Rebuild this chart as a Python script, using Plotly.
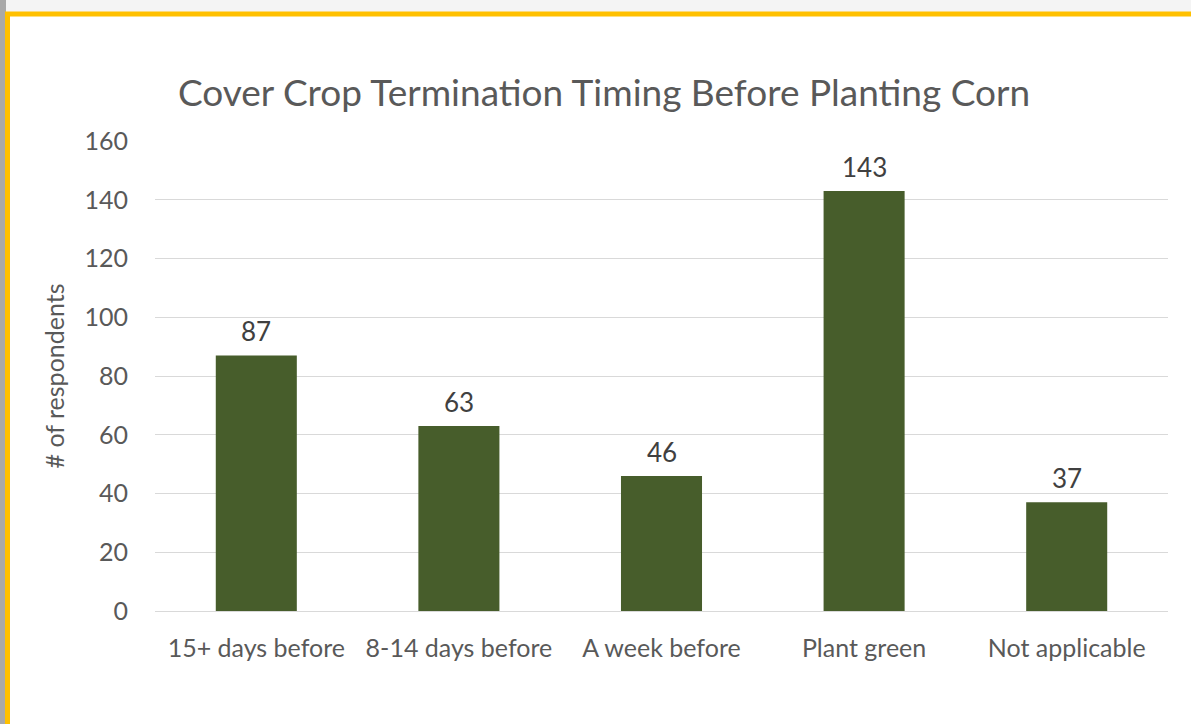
import plotly.graph_objects as go

categories = ['15+ days before', '8-14 days before', 'A week before', 'Plant green', 'Not applicable']
respondents = [87, 63, 46, 143, 37]
y_ticks = [0, 20, 40, 60, 80, 100, 120, 140, 160]

W, H = 1191, 724
L, R, T, B = 155, 23, 141, 113
pw, ph = W - L - R, H - T - B


def px_x(p):
    return (p - L) / pw


def px_y(p):
    return (H - B - p) / ph


fig = go.Figure()

fig.add_trace(go.Bar(
    x=categories, y=respondents,
    marker=dict(color='#475D2B', line=dict(width=0)),
    hoverinfo='x+y',
))

# value labels above the bars
for c, v in zip(categories, respondents):
    fig.add_annotation(x=c, y=v, text=str(v), showarrow=False,
                       yanchor='bottom', yshift=6,
                       font=dict(family='Lato', size=26, color='#404040'))

# slide-like frame: grey backdrop, white card with yellow edge
fig.add_shape(type='rect', xref='paper', yref='paper',
              x0=px_x(-5), x1=px_x(6), y0=px_y(H + 10), y1=px_y(0),
              fillcolor='#a9a9a9', line=dict(width=0), layer='below')
fig.add_shape(type='rect', xref='paper', yref='paper',
              x0=px_x(7.5), x1=px_x(W + 20), y0=px_y(H + 20), y1=px_y(14),
              fillcolor='white', line=dict(color='#FFC000', width=5), layer='below')

fig.update_layout(
    width=W, height=H,
    margin=dict(l=L, r=R, t=T, b=B),
    paper_bgcolor='#f4f4f4',
    plot_bgcolor='rgba(0,0,0,0)',
    showlegend=False,
    bargap=0.6,
    title=dict(text='Cover Crop Termination Timing Before Planting Corn',
               x=604 / W, xanchor='center', y=1 - 93 / H, yanchor='middle',
               font=dict(family='Lato', size=37, color='#595959')),
    font=dict(family='Lato', color='#595959'),
    xaxis=dict(tickfont=dict(size=25, color='#595959'), showline=False,
               ticks='outside', ticklen=15, tickcolor='rgba(0,0,0,0)'),
    yaxis=dict(range=[0, 160], tickvals=y_ticks, showgrid=True,
               gridcolor='#d9d9d9', gridwidth=1, zeroline=True,
               zerolinecolor='#d9d9d9', zerolinewidth=1,
               tickfont=dict(size=25, color='#595959'),
               ticks='outside', ticklen=21, tickcolor='rgba(0,0,0,0)',
               title=dict(text='# of respondents', standoff=12,
                          font=dict(size=25, color='#595959'))),
)

fig.write_html('out.html', config={'displayModeBar': False},
               post_script="document.body.style.margin='0';")
